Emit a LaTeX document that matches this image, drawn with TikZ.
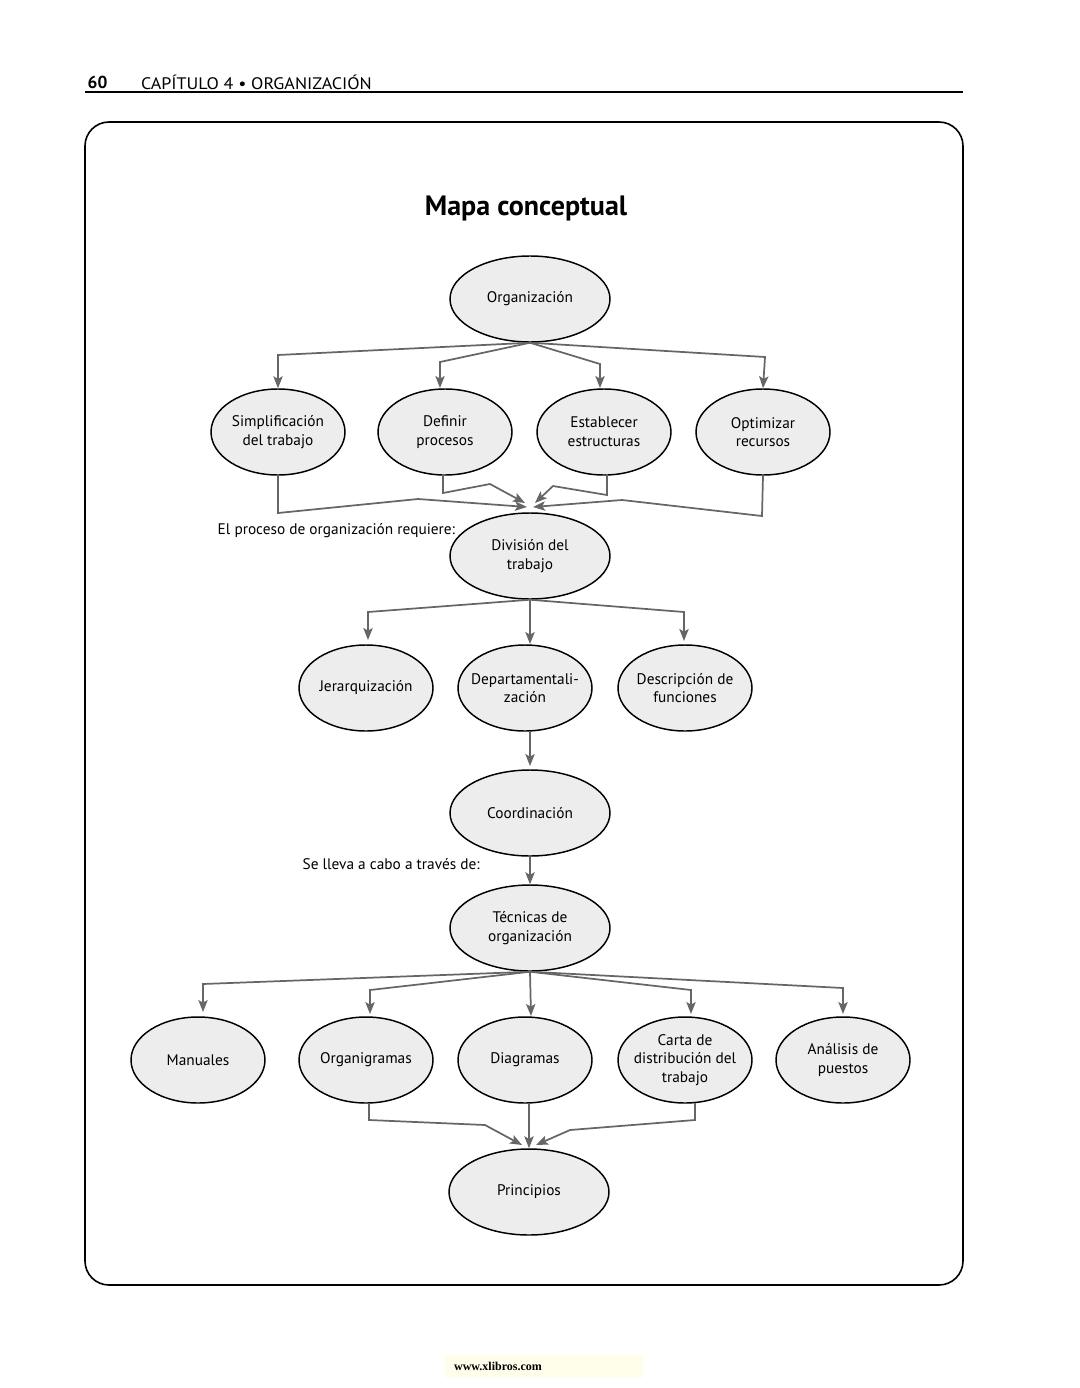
\documentclass[tikz,border=0pt]{standalone}
\usepackage{fontspec}
\setmainfont{PT Sans}
\usetikzlibrary{shapes.geometric,arrows.meta}
\begin{document}
\begin{tikzpicture}[x=0.75pt,y=-0.75pt,
  el/.style={ellipse,draw=black,line width=1.1pt,fill=gray!14,minimum width=134*0.75pt,minimum height=86*0.75pt,inner sep=-8pt,align=center,font=\fontsize{11.5}{14}\selectfont},
  big/.style={el,minimum width=160*0.75pt},
  con/.style={draw=black!60,line width=1.3pt,-{Stealth[length=9pt,width=7pt,inset=2pt]}},
  lbl/.style={font=\fontsize{11.5}{14}\selectfont,anchor=west}]
\useasboundingbox (0,0) rectangle (1080,1388);
% header
\node[anchor=west,font=\bfseries\fontsize{13}{15}\selectfont] at (83,82) {60};
\node[anchor=west,font=\fontsize{12.5}{14}\selectfont,xscale=1.08] at (136,82) {CAPÍTULO 4 \textbullet\ ORGANIZACIÓN};
\draw[line width=0.8pt] (85,92) -- (963,92);
\draw[line width=1.2pt,rounded corners=18pt] (85,122) rectangle (963,1285);
\node[font=\bfseries\fontsize{21}{24}\selectfont] at (526,208) {Mapa conceptual};
\fill[yellow!8] (445,1355) rectangle (643,1378);
\node[font=\fontsize{9}{11}\selectfont\bfseries] (foot) at (498,1366) {\fontspec{Liberation Serif}www.xlibros.com};
% nodes
\node[big] (org) at (530,299) {Organización};
\node[el] (sim) at (278,432) {Simplificación\\del trabajo};
\node[el] (def) at (445,432) {Definir\\procesos};
\node[el] (est) at (604,432) {Establecer\\estructuras};
\node[el] (opt) at (763,432) {Optimizar\\recursos};
\node[big] (div) at (530,556) {División del\\trabajo};
\node[el] (jer) at (366,688) {Jerarquización};
\node[el] (dep) at (525,688) {Departamentali-\\zación};
\node[el] (des) at (685,688) {Descripción de\\funciones};
\node[big] (coo) at (530,813) {Coordinación};
\node[big] (tec) at (530,928) {Técnicas de\\organización};
\node[el] (man) at (198,1060) {Manuales};
\node[el] (orgm) at (366,1060) {Organigramas};
\node[el] (dia) at (525,1060) {Diagramas};
\node[el] (car) at (685,1060) {Carta de\\distribución del\\trabajo};
\node[el] (ana) at (843,1060) {Análisis de\\puestos};
\node[big] (pri) at (529,1192) {Principios};
\node[lbl] (l1) at (213,531) {El proceso de organización requiere:};
\node[lbl] (l2) at (298,864) {Se lleva a cabo a través de:};
% connectors
\coordinate (o) at (org.south);
\draw[con] (o) -- (278,355) -- (sim.north);
\draw[con] (o) -- (440,362) -- (440,388);
\draw[con] (o) -- (600,364) -- (600,388);
\draw[con] (o) -- (765,357) -- (opt.north);
\draw[con] (sim.south) -- (278,513) -- (418,499) -- (527,507);
\draw[con] (443,474) -- (443,493) -- (490,484) -- (525,503);
\draw[con] (607,474) -- (607,495) -- (553,486) -- (535,503);
\draw[con] (opt.south) -- (762,516) -- (622,500) -- (533,507);
\coordinate (d) at (div.south);
\draw[con] (d) -- (368,612) -- (368,640);
\draw[con] (d) -- (530,644);
\draw[con] (d) -- (684,612) -- (684,641);
\draw[con] (530,731) -- (530,766);
\draw[con] (coo.south) -- (tec.north);
\coordinate (t) at (tec.south);
\draw[con] (t) -- (203,984) -- (203,1012);
\draw[con] (t) -- (370,990) -- (370,1014);
\draw[con] (t) -- (531,1016);
\draw[con] (t) -- (691,990) -- (691,1014);
\draw[con] (t) -- (843,988) -- (843,1014);
\draw[con] (369,1103) -- (369,1120) -- (485,1125) -- (522,1145);
\draw[con] (529,1103) -- (pri.north);
\draw[con] (695,1103) -- (695,1120) -- (570,1130) -- (536,1145);
\end{tikzpicture}
\end{document}
